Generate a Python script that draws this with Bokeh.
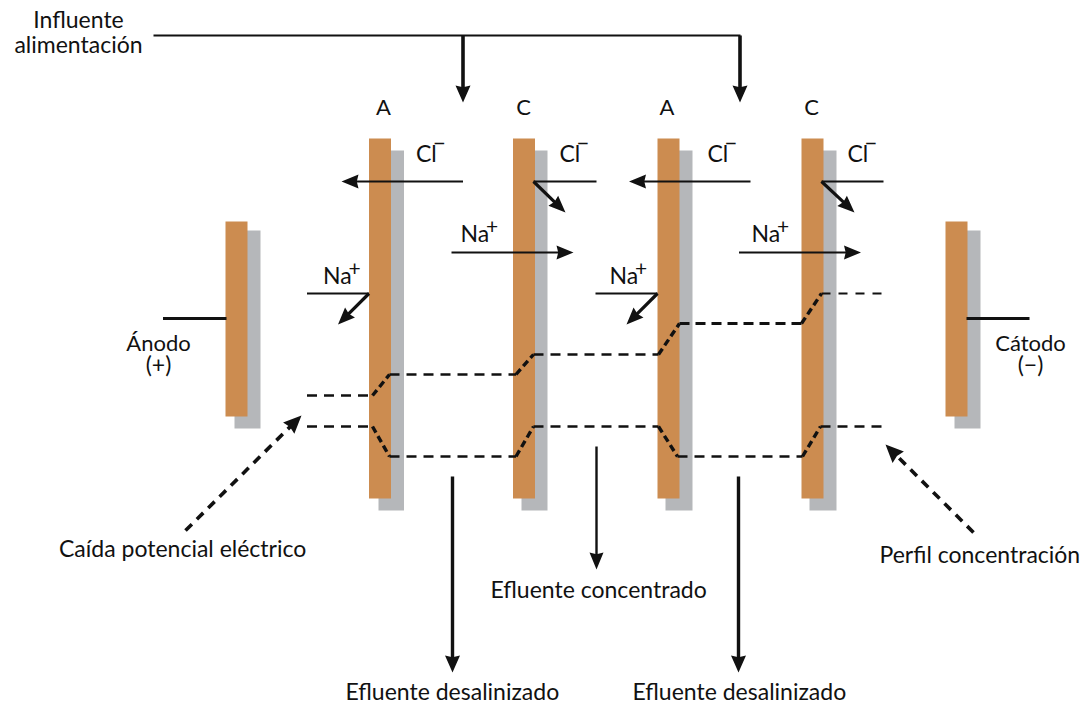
import math
from bokeh.plotting import figure
from bokeh.models import Range1d
from bokeh.core.properties import value
from bokeh.embed import file_html
from bokeh.resources import INLINE

FONT = "Lato"
ORANGE = "#CC8C50"
GRAY = "#B5B7BA"
INK = "#111111"

plate_left = [225, 368.5, 512.5, 657, 801, 945]
plate_right = [247, 390.5, 534.5, 679, 823, 967]
plate_top = [221, 138, 138, 138, 138, 221]
plate_bottom = [416, 498, 498, 498, 498, 416]
shadow_left = [234, 378, 521, 665, 809, 954]
shadow_right = [260, 403.5, 547, 692, 836, 980]
shadow_top = [230, 150, 150, 150, 150, 230]
shadow_bottom = [428, 510, 510, 510, 510, 428]

plain_lines = [
    ([153, 740], [35, 35], 2.2),
    ([162.5, 226], [318, 318], 3.2),
    ([966, 1029], [318, 318], 3.2),
    ([596, 533], [181, 181], 2.2),
    ([883, 821], [181, 181], 2.2),
    ([306.5, 368.5], [293, 293], 2.2),
    ([595, 657], [293, 293], 2.2),
]

arrows = [
    ([462.5, 462.5], [35, 102], 3.6, 17, 15),
    ([739.5, 739.5], [35, 102], 3.6, 17, 15),
    ([462.5, 341], [181, 181], 2.2, 17, 14),
    ([533, 565], [181, 212], 3.2, 17, 14),
    ([750, 628.5], [181, 181], 2.2, 17, 14),
    ([821, 854], [181, 212], 3.2, 17, 14),
    ([451, 573], [252, 252], 2.2, 17, 14),
    ([738.5, 860.5], [252, 252], 2.2, 17, 14),
    ([368.5, 337.5], [293, 324], 3.2, 17, 14),
    ([657, 626], [293, 324], 3.2, 17, 14),
    ([452, 452], [476, 672], 3.4, 17, 15),
    ([596, 596], [446, 569], 2.4, 17, 14),
    ([738, 738], [476, 672], 3.4, 17, 15),
]

profiles = [
    ([306.5, 372], [395, 395], 2.4, "10 7"),
    ([372, 389], [395, 374], 3.4, "7 4"),
    ([389, 515.5], [374, 374], 2.4, "10 7"),
    ([515.5, 533], [374, 354], 3.4, "7 4"),
    ([533, 658], [354, 354], 2.4, "10 7"),
    ([658, 679], [354, 323], 3.4, "7 4"),
    ([679, 801], [323, 323], 3.2, "10 6"),
    ([801, 821], [323, 293], 3.4, "7 4"),
    ([821, 884], [293, 293], 2.2, "9 8"),
    ([306.5, 372], [426, 426], 2.4, "10 7"),
    ([372, 389], [426, 456], 3.4, "7 4"),
    ([389, 515.5], [456, 456], 2.4, "10 7"),
    ([515.5, 533], [456, 426], 3.4, "7 4"),
    ([533, 658], [426, 426], 2.4, "10 7"),
    ([658, 677], [426, 456], 3.4, "7 4"),
    ([677, 802], [456, 456], 2.4, "10 7"),
    ([802, 820], [456, 426], 3.4, "7 4"),
    ([820, 884], [426, 426], 2.4, "10 7"),
]

pointer_xs = [[185, 301], [973, 885]]
pointer_ys = [[530, 415], [532, 444]]

labels = [
    ("Influente", 78, 28, "center", 23),
    ("alimentación", 78, 53, "center", 23),
    ("A", 383, 115, "center", 22),
    ("C", 523, 115, "center", 22),
    ("A", 666.5, 115, "center", 22),
    ("C", 811, 115, "center", 22),
    ("Ánodo", 158, 351, "center", 22),
    ("(+)", 158, 373, "center", 23),
    ("Cátodo", 1030, 351, "center", 22),
    ("(−)", 1030, 373, "center", 23),
    ("Caída potencial eléctrico", 58.5, 557, "left", 23),
    ("Efluente concentrado", 490, 598, "left", 23),
    ("Efluente desalinizado", 345, 700, "left", 23),
    ("Efluente desalinizado", 632, 700, "left", 23),
    ("Perfil concentración", 879, 563, "left", 23),
]
cl_x = [415.5, 559, 707, 847]
cl_y = [162, 162, 162, 162]
na_x = [322.5, 460, 609, 751]
na_y = [284, 242, 284, 242]

p = figure(width=1083, height=704, output_backend="svg", toolbar_location=None,
           x_range=Range1d(0, 1083), y_range=Range1d(704, 0), min_border=0,
           background_fill_color="white", outline_line_color=None)
p.axis.visible = False
p.grid.visible = False


def head(x0, y0, x1, y1, length, width):
    d = math.hypot(x1 - x0, y1 - y0)
    ux, uy = (x1 - x0) / d, (y1 - y0) / d
    nx, ny = -uy, ux
    bx, by = x1 - ux * length, y1 - uy * length
    mx, my = x1 - ux * length * 0.9, y1 - uy * length * 0.9
    return ([x1, bx + nx * width / 2, mx, bx - nx * width / 2],
            [y1, by + ny * width / 2, my, by - ny * width / 2])


def label(txt, x, y, size, anchor="left"):
    # the renderer sets text about 0.4 em below the given baseline
    p.text([x], [y - 0.4 * size], text=[txt], text_font=value(FONT),
           text_font_size=f"{size}px", text_color=INK, text_align=anchor,
           text_baseline="alphabetic")


p.quad(left=shadow_left, right=shadow_right, top=shadow_top, bottom=shadow_bottom,
       fill_color=GRAY, line_color=None)
p.quad(left=plate_left, right=plate_right, top=plate_top, bottom=plate_bottom,
       fill_color=ORANGE, line_color=None)

for xs, ys, w in plain_lines:
    p.line(xs, ys, line_color=INK, line_width=w)

for xs, ys, w, hl, hw in arrows:
    hx, hy = head(xs[-2], ys[-2], xs[-1], ys[-1], hl, hw)
    d = math.hypot(xs[-1] - xs[-2], ys[-1] - ys[-2])
    ex = xs[-1] - (xs[-1] - xs[-2]) / d * hl * 0.8
    ey = ys[-1] - (ys[-1] - ys[-2]) / d * hl * 0.8
    p.line(xs[:-1] + [ex], ys[:-1] + [ey], line_color=INK, line_width=w)
    p.patch(hx, hy, fill_color=INK, line_color=None)

for xs, ys, w, dash in profiles:
    p.line(xs, ys, line_color=INK, line_width=w, line_dash=dash)

for xs, ys in zip(pointer_xs, pointer_ys):
    hx, hy = head(xs[0], ys[0], xs[1], ys[1], 18, 16)
    d = math.hypot(xs[1] - xs[0], ys[1] - ys[0])
    ex = xs[1] - (xs[1] - xs[0]) / d * 14
    ey = ys[1] - (ys[1] - ys[0]) / d * 14
    p.line([xs[0], ex], [ys[0], ey], line_color=INK, line_width=3.6, line_dash="9 7")
    p.patch(hx, hy, fill_color=INK, line_color=None)

for txt, x, y, anchor, size in labels:
    label(txt, x, y, size, anchor)

for x, y in zip(cl_x, cl_y):
    label("Cl", x, y, 23)
    label("−", x + 17, y - 10, 22)

for x, y in zip(na_x, na_y):
    label("Na", x, y, 23)
    label("+", x + 25.5, y - 8, 21)

open("out.html", "w").write(file_html(p, INLINE))
